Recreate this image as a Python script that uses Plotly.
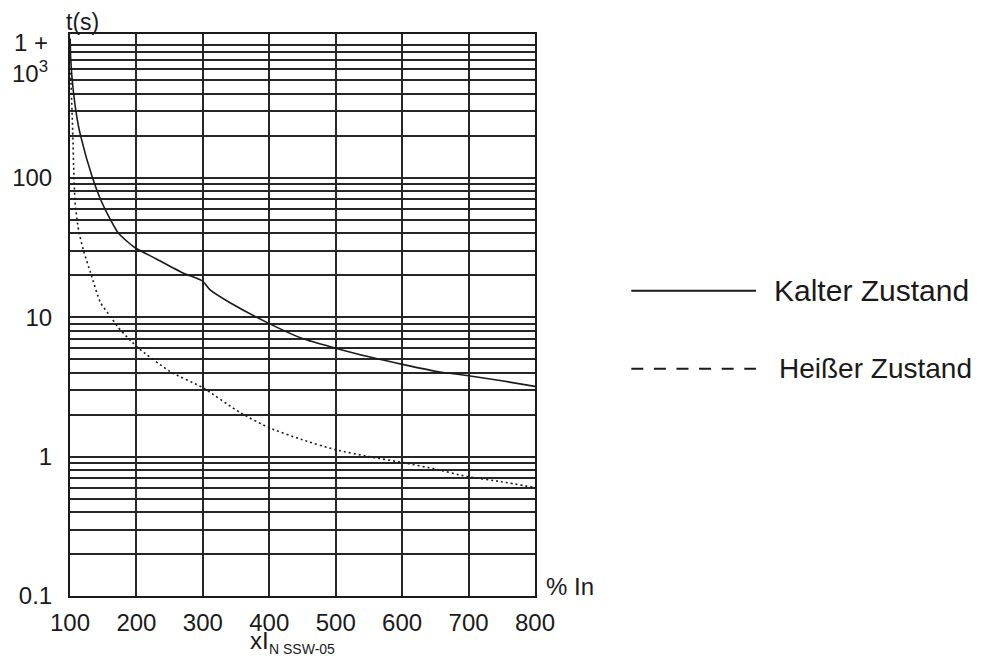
import plotly.graph_objects as go

# ---------------- data ----------------
x_ticks = [100, 200, 300, 400, 500, 600, 700, 800]
y_ticks = [0.1, 1, 10, 100]
y_tick_text = ["0.1", "1", "10", "100"]
y_minor = [m * 10 ** e for e in range(-1, 3) for m in range(2, 10)]

series_names = ["Kalter Zustand", "Heißer Zustand"]

cold_x = [100.3, 101, 105, 111, 116, 133, 146, 161, 173, 198, 230, 271, 300,
          311, 341, 400, 451, 500, 550, 602, 650, 700, 750, 800]
cold_y = [1000, 725, 420, 261, 200, 103, 70, 50, 40, 31.5, 26.2, 20.7, 18.1,
          15.7, 12.7, 9.0, 7.0, 6.0, 5.2, 4.57, 4.1, 3.8, 3.5, 3.19]

hot_x = [100.7, 104, 106, 108, 113, 120, 131, 146, 161, 173, 186, 194, 203,
         251, 300, 356, 400, 450, 500, 550, 602, 652, 697, 750, 800]
hot_y = [617, 220, 100, 64, 42, 30.5, 20.8, 12.7, 10.1, 8.4, 7.2, 6.6, 6.0,
         4.07, 3.12, 2.07, 1.61, 1.32, 1.12, 1.0, 0.905, 0.81, 0.72, 0.66, 0.60]

# ---------------- layout geometry (page pixels) ----------------
OFF = 8                      # default page body margin
W, H = 1007 - 2 * OFF, 668 - 2 * OFF
L, R, T, B = 69.5, 535.5, 34, 596.5
FONT = "Liberation Sans, Arial, sans-serif"
INK = "#1a1a1a"
GRID = "#262626"


def px(xp):
    return (xp - L) / (R - L)


def py(yp):
    return (B - yp) / (B - T)


fig = go.Figure()
fig.add_trace(go.Scatter(x=cold_x, y=cold_y, mode="lines", name=series_names[0],
                         line=dict(color=INK, width=1.6, shape="spline", smoothing=0.6),
                         showlegend=False))
fig.add_trace(go.Scatter(x=hot_x, y=hot_y, mode="lines", name=series_names[1],
                         line=dict(color=INK, width=1.6, dash="2px,3px",
                                   shape="spline", smoothing=0.6),
                         showlegend=False))

fig.update_xaxes(range=[100, 800], tickvals=x_ticks,
                 ticktext=[str(v) for v in x_ticks], automargin=False,
                 showgrid=True, gridcolor=GRID, gridwidth=1.8,
                 showline=True, linecolor=INK, linewidth=2, mirror=True,
                 zeroline=False, ticks="", ticklabelstandoff=4,
                 tickfont=dict(family=FONT, size=24, color=INK))
fig.update_yaxes(type="log", range=[-1, 3.032], tickvals=y_ticks,
                 ticktext=y_tick_text, automargin=False,
                 showgrid=True, gridcolor=GRID, gridwidth=1.8,
                 minor=dict(tickvals=y_minor, showgrid=True, gridcolor=GRID,
                            gridwidth=1.6, ticks=""),
                 showline=True, linecolor=INK, linewidth=2, mirror=True,
                 zeroline=False, ticks="", ticklabelstandoff=11,
                 tickfont=dict(family=FONT, size=24, color=INK))

annots = []


def add_text(text, xp, yp, size, xanchor="left", yanchor="middle"):
    annots.append(dict(text=text, x=px(xp), y=py(yp), xref="paper", yref="paper",
                       xanchor=xanchor, yanchor=yanchor, showarrow=False,
                       borderpad=0,
                       font=dict(family=FONT, size=size, color=INK)))


add_text("t(s)", 64, 22, 23)
add_text("1 +", 48, 43, 24, xanchor="right")
add_text("10<sup>3</sup>", 48, 72, 24, xanchor="right")
add_text("% In", 546, 587, 24)
add_text("xI", 249, 641, 24)
add_text("N SSW-05", 268, 659, 14, yanchor="bottom")

# legend drawn as shapes + text
shapes = [
    dict(type="line", xref="paper", yref="paper", x0=px(632), x1=px(757),
         y0=py(291), y1=py(291), line=dict(color=INK, width=2)),
    dict(type="line", xref="paper", yref="paper", x0=px(632), x1=px(757),
         y0=py(369), y1=py(369), line=dict(color=INK, width=2, dash="12px,10.6px")),
]
add_text(series_names[0], 774, 291, 30)
add_text(series_names[1], 779, 369, 28)

fig.update_layout(width=W, height=H, autosize=False,
                  margin=dict(l=L - OFF, r=W - (R - OFF), t=T - OFF,
                              b=H - (B - OFF), pad=0, autoexpand=False),
                  paper_bgcolor="white", plot_bgcolor="white",
                  annotations=annots, shapes=shapes, showlegend=False)

fig.write_html("out.html")
